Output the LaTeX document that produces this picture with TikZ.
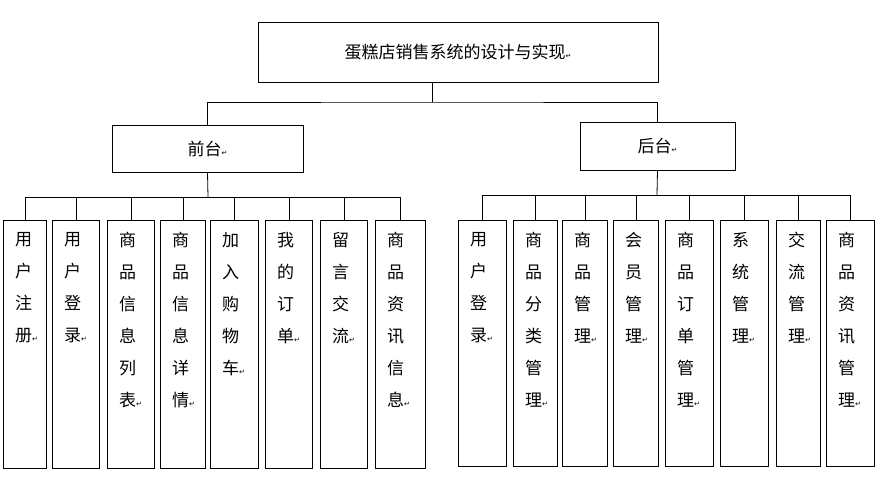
\documentclass[tikz,border=0pt]{standalone}
\usepackage{fontspec}
\setmainfont{Noto Sans CJK SC}
\newfontfamily\retfont{DejaVu Sans}
\newcommand{\ret}{{\retfont\fontsize{7}{7}\selectfont ↵}}
\tikzset{
  box/.style={draw, thick, inner sep=0pt},
  txt/.style={anchor=north west, align=left, inner sep=0pt, font=\fontsize{17}{32}\selectfont},
  link/.style={draw, thick}
}
\begin{document}
\begin{tikzpicture}[x=1pt,y=-1pt]
  \useasboundingbox (0,0) rectangle (884,480);
  % top level
  \node[box, minimum width=400, minimum height=60, font=\fontsize{17}{20}\selectfont] (root) at (458,52) {蛋糕店销售系统的设计与实现\ret};
  \node[box, minimum width=191, minimum height=47, font=\fontsize{17}{20}\selectfont] (front) at (207.5,148.5) {前台\ret};
  \node[box, minimum width=155, minimum height=48, font=\fontsize{17}{20}\selectfont] (back) at (657.5,146) {后台\ret};
  \coordinate (rj) at (432,102);
  \draw[link] (root.south -| rj) -- (rj);
  \draw[link] (front.north) |- (rj) -| (back.north);
  % front children
  \coordinate (fbus) at (208,197);
  \foreach \i/\x/\w/\t in {1/3/43/用\\户\\注\\册, 2/52/47/用\\户\\登\\录, 3/107/47/商\\品\\信\\息\\列\\表,
      4/160/45/商\\品\\信\\息\\详\\情, 5/210/48/加\\入\\购\\物\\车, 6/265/47/我\\的\\订\\单,
      7/320/47/留\\言\\交\\流, 8/375/50/商\\品\\资\\讯\\信\\息} {
    \node[box, anchor=north west, minimum width=\w, minimum height=248] (f\i) at (\x,220) {};
    \node[txt] (ft\i) at ([shift={(12,12)}]f\i.north west) {\t\ret};
    \draw[link] (f\i.north) -- (f\i.north |- fbus);
  }
  \draw[link] (front.south) -- (fbus);
  \draw[link] (f1.north |- fbus) -- (f8.north |- fbus);
  % back children
  \coordinate (bbus) at (657,195);
  \foreach \i/\x/\w/\t in {1/458/48/用\\户\\登\\录, 2/513/44/商\\品\\分\\类\\管\\理, 3/562/45/商\\品\\管\\理,
      4/613/45/会\\员\\管\\理, 5/665/48/商\\品\\订\\单\\管\\理, 6/720/48/系\\统\\管\\理,
      7/776/44/交\\流\\管\\理, 8/826/48/商\\品\\资\\讯\\管\\理} {
    \node[box, anchor=north west, minimum width=\w, minimum height=246] (b\i) at (\x,220) {};
    \node[txt] (bt\i) at ([shift={(12,12)}]b\i.north west) {\t\ret};
    \draw[link] (b\i.north) -- (b\i.north |- bbus);
  }
  \draw[link] (back.south) -- (bbus);
  \draw[link] (b1.north |- bbus) -- (b8.north |- bbus);
\end{tikzpicture}
\end{document}
